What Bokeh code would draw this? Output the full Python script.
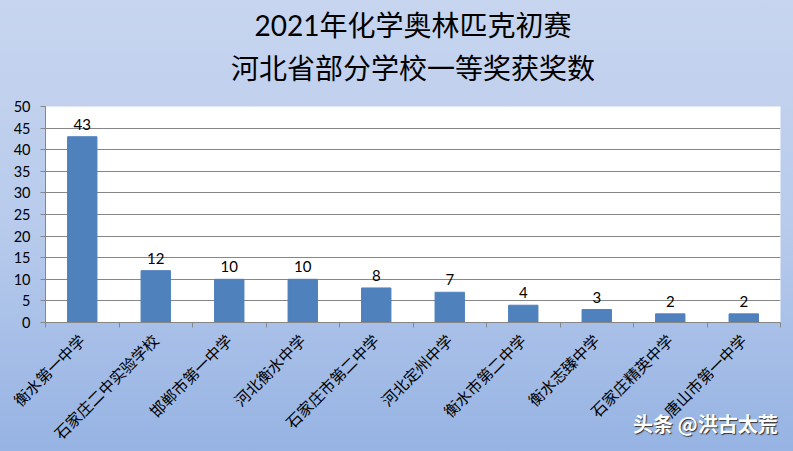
import math
from bokeh.plotting import figure
from bokeh.models import (FixedTicker, Title, LabelSet, ColumnDataSource, Div,
                          GlobalInlineStyleSheet, Range1d)
from bokeh.core.properties import value
from bokeh.embed import file_html
from bokeh.resources import INLINE

schools = ["衡水第一中学", "石家庄二中实验学校", "邯郸市第一中学", "河北衡水中学",
           "石家庄市第二中学", "河北定州中学", "衡水市第二中学", "衡水志臻中学",
           "石家庄精英中学", "唐山市第一中学"]
counts = [43, 12, 10, 10, 8, 7, 4, 3, 2, 2]
y_ticks = [0, 5, 10, 15, 20, 25, 30, 35, 40, 45, 50]
title_line1 = "2021年化学奥林匹克初赛"
title_line2 = "河北省部分学校一等奖获奖数"
watermark = "头条 @洪古太荒"

xs = list(range(1, len(schools) + 1))
bounds = [x - 0.5 for x in xs] + [xs[-1] + 0.5]

grad = "linear-gradient(to bottom, #c7d5ef 0%, #b8cbec 50%, #96b3e3 100%)"
css = GlobalInlineStyleSheet(css="""
html, body { margin: 0 !important; padding: 0 !important; overflow: hidden;
  background: %s; }
""" % grad)

p = figure(width=793, height=451, output_backend="svg", toolbar_location=None,
           x_range=Range1d(0.5, len(schools) + 0.5), y_range=Range1d(0, 50),
           title_location=None,
           min_border_left=45, min_border_right=13, min_border_top=106,
           min_border_bottom=128,
           background_fill_color="white", border_fill_alpha=0,
           outline_line_color=None, stylesheets=[css])
p.styles = {"background": grad, "position": "relative"}

src = ColumnDataSource(dict(x=xs, count=counts, label=[str(c) for c in counts]))
p.vbar(x="x", top="count", width=0.4, color="#4f81bd", source=src)
p.add_layout(LabelSet(x="x", y="count", text="label", source=src, y_offset=7,
                      text_align="center", text_baseline="bottom",
                      text_font_size=value("15px"), text_font=value("Lato"),
                      text_color="black"))

p.xgrid.grid_line_color = None
p.ygrid.grid_line_color = "#868686"
p.ygrid.grid_line_width = 1

p.yaxis.ticker = FixedTicker(ticks=y_ticks)
p.yaxis.axis_line_color = "#868686"
p.yaxis.major_tick_line_color = "#868686"
p.yaxis.major_tick_out = 5
p.yaxis.major_tick_in = 0
p.yaxis.minor_tick_out = 0
p.yaxis.major_label_standoff = 10
p.yaxis.major_label_text_font = "Lato"
p.yaxis.major_label_text_font_size = "14.5px"
p.yaxis.major_label_text_color = "black"

p.xaxis.ticker = FixedTicker(ticks=xs, minor_ticks=bounds)
p.xaxis.major_label_overrides = {x: s for x, s in zip(xs, schools)}
p.xaxis.major_label_orientation = math.pi / 4
p.xaxis.axis_line_color = "#868686"
p.xaxis.major_tick_out = 0
p.xaxis.major_tick_in = 0
p.xaxis.minor_tick_out = 5
p.xaxis.minor_tick_in = 0
p.xaxis.minor_tick_line_color = "#868686"
p.xaxis.major_label_standoff = 10
p.xaxis.major_label_text_font = "Lato, 'Noto Sans CJK SC'"
p.xaxis.major_label_text_font_size = "15.5px"
p.xaxis.major_label_text_color = "black"

title_font = "Lato, 'Noto Sans CJK SC'"
p.add_layout(Title(text=title_line2, align="center", text_font=title_font,
                   text_font_size="28px", text_font_style="normal",
                   text_color="black", standoff=44), "above")
p.add_layout(Title(text=title_line1, align="center", text_font=title_font,
                   text_font_size="28px", text_font_style="normal",
                   text_color="black", standoff=-30), "above")

wm = Div(text=watermark, styles={
    "position": "absolute", "left": "633px", "top": "410px",
    "color": "white", "font-family": "Noto Sans CJK SC", "font-size": "20px",
    "font-weight": "bold", "text-shadow": "1px 1px 1px #333333",
    "white-space": "nowrap", "z-index": "10"})
p.elements = [wm]

open("out.html", "w").write(file_html(p, INLINE))
